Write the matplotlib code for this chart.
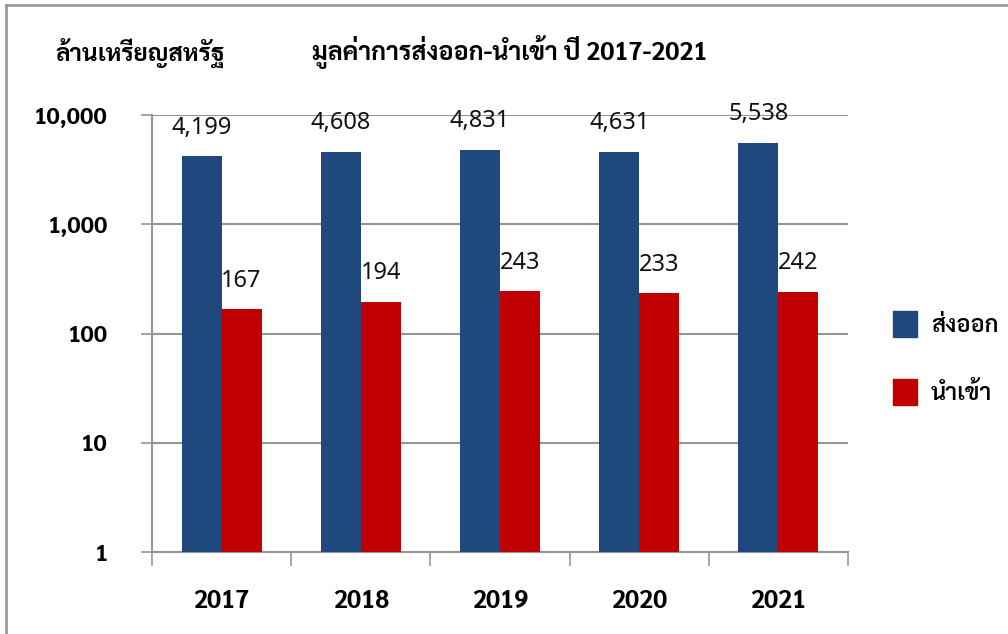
import matplotlib
matplotlib.use("Agg")
import matplotlib.pyplot as plt
import numpy as np
from matplotlib.lines import Line2D
from matplotlib.patches import Patch

plt.rcParams['font.family'] = ['Noto Sans Thai Looped', 'DejaVu Sans']
boldfam = ['Sarabun', 'DejaVu Sans']

years = ["2017", "2018", "2019", "2020", "2021"]
exports = [4199, 4608, 4831, 4631, 5538]
imports = [167, 194, 243, 233, 242]
series_names = ["ส่งออก", "นำเข้า"]
yticks = [1, 10, 100, 1000, 10000]
ytick_labels = ["1", "10", "100", "1,000", "10,000"]

blue = "#1F497D"
red = "#C00000"
grid = "#969696"

fig = plt.figure(figsize=(10.08, 6.34), dpi=100)
ax = fig.add_axes([0.1508, 0.1293, 0.6905, 0.6893])

x = np.arange(len(years))
w = 0.287
b1 = ax.bar(x - w / 2, exports, w, color=blue, label=series_names[0], zorder=3)
b2 = ax.bar(x + w / 2, imports, w, color=red, label=series_names[1], zorder=3)

for bars, vals in ((b1, exports), (b2, imports)):
    for r, v in zip(bars, vals):
        ax.annotate(f"{v:,}", (r.get_x() + r.get_width() / 2, v),
                    xytext=(0, 12), textcoords="offset points",
                    ha="center", va="bottom", fontsize=17, color="#111111")

ax.set_yscale("log")
ax.set_ylim(1, 10000)
ax.set_xlim(-0.5, len(years) - 0.5)
ax.set_yticks(yticks)
ax.set_yticklabels(ytick_labels, fontsize=17, fontweight="bold", family=boldfam)
ax.yaxis.set_minor_locator(matplotlib.ticker.NullLocator())
ax.tick_params(axis="y", length=8, width=1.2, color=grid, pad=24)

ax.set_xticks(np.arange(len(years) + 1) - 0.5)
ax.set_xticklabels([])
ax.set_xticks(x, minor=True)
ax.set_xticklabels(years, minor=True, fontsize=18, fontweight="bold", family=boldfam)
ax.tick_params(axis="x", which="major", length=10, width=1.2, color=grid, direction="out")
ax.tick_params(axis="x", which="minor", length=0, pad=27)

ax.grid(axis="y", color=grid, linewidth=1.5, zorder=0)
for s in ("top", "right"):
    ax.spines[s].set_visible(False)
for s in ("left", "bottom"):
    ax.spines[s].set_color(grid)
    ax.spines[s].set_linewidth(1.5)

handles = [Patch(color=blue), Patch(color=red)]
fig.legend(handles, series_names, loc="center left", bbox_to_anchor=(0.865, 0.435),
           frameon=False, handlelength=1.0, handleheight=1.3,
           handletextpad=0.6, labelspacing=1.8,
           prop={'family': boldfam, 'weight': 'semibold', 'size': 17})

fig.text(0.055, 0.915, "ล้านเหรียญสหรัฐ", fontsize=17.5, fontweight="bold",
         family=boldfam, va="center")
fig.text(0.506, 0.918, "มูลค่าการส่งออก-นำเข้า ปี 2017-2021", fontsize=18,
         fontweight="bold", family=boldfam, ha="center", va="center")

# frame
fig.add_artist(Line2D([0.006, 0.006], [0, 0.992], transform=fig.transFigure, color="#9a9a9a", lw=2))
fig.add_artist(Line2D([0.006, 1], [0.992, 0.992], transform=fig.transFigure, color="#9a9a9a", lw=2))

fig.savefig("out.png", dpi=100)
